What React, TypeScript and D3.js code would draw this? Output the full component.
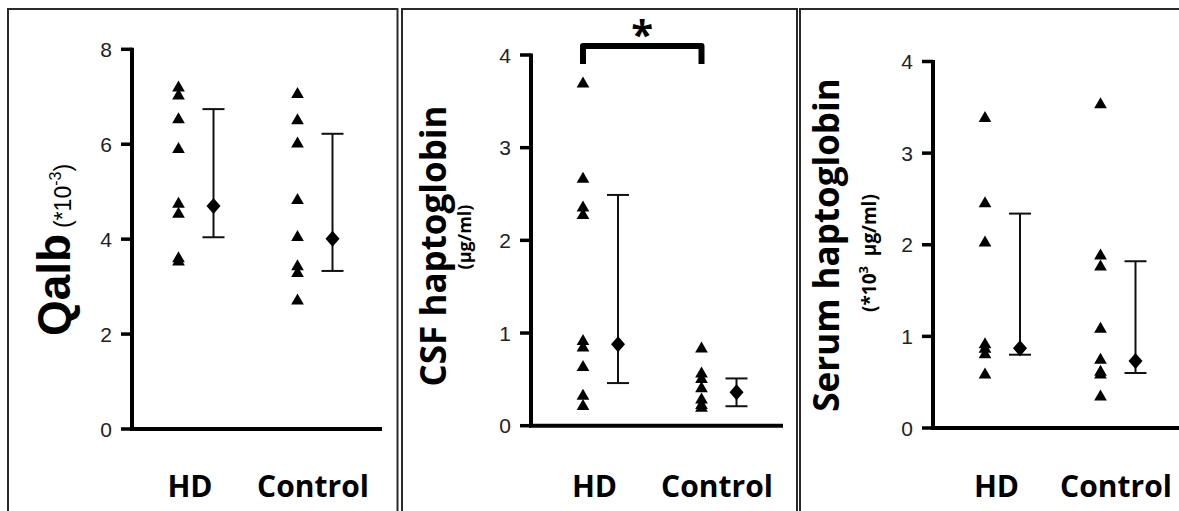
import React, { useEffect, useRef } from "react";
import * as d3 from "d3";

const groups = ["HD", "Control"];

// Qalb (*10^-3)
const qalbHD = [7.19, 7.02, 6.52, 5.89, 4.74, 4.53, 3.59, 3.52];
const qalbControl = [7.05, 6.5, 6.01, 4.82, 4.04, 3.42, 3.28, 2.7];
const qalbMid = [4.7, 4.01];
const qalbLow = [4.04, 3.33];
const qalbHigh = [6.74, 6.22];
const qalbTicks = [0, 2, 4, 6, 8];

// CSF haptoglobin (ug/ml)
const csfHD = [3.69, 2.66, 2.35, 2.27, 0.91, 0.84, 0.63, 0.32, 0.21];
const csfControl = [0.83, 0.56, 0.5, 0.4, 0.28, 0.22, 0.19];
const csfMid = [0.88, 0.36];
const csfLow = [0.46, 0.21];
const csfHigh = [2.49, 0.51];
const csfTicks = [0, 1, 2, 3, 4];

// Serum haptoglobin (*10^3 ug/ml)
const serumHD = [3.38, 2.45, 2.02, 0.91, 0.86, 0.8, 0.58];
const serumControl = [3.53, 1.88, 1.76, 1.08, 0.74, 0.61, 0.58, 0.34];
const serumMid = [0.87, 0.73];
const serumLow = [0.8, 0.6];
const serumHigh = [2.34, 1.82];
const serumTicks = [0, 1, 2, 3, 4];

const width = 1179;
const height = 511;
const calibri = "'Open Sans', 'DejaVu Sans', sans-serif";
const arial = "'Liberation Sans', Arial, sans-serif";

const panels = [
  {
    box: [8, 9, 397.5],
    axisX: 132,
    yTop: 49.3,
    yBottom: 429,
    xEnd: 382,
    centers: [196, 315],
    ticks: qalbTicks,
    pts: [qalbHD, qalbControl],
    mid: qalbMid,
    low: qalbLow,
    high: qalbHigh,
  },
  {
    box: [402, 9, 797],
    axisX: 531,
    yTop: 55,
    yBottom: 425.7,
    xEnd: 783,
    centers: [600.5, 719],
    ticks: csfTicks,
    pts: [csfHD, csfControl],
    mid: csfMid,
    low: csfLow,
    high: csfHigh,
  },
  {
    box: [800, 9, 1190],
    axisX: 933,
    yTop: 61.5,
    yBottom: 428,
    xEnd: 1185,
    centers: [1002.5, 1118],
    ticks: serumTicks,
    pts: [serumHD, serumControl],
    mid: serumMid,
    low: serumLow,
    high: serumHigh,
  },
];

const diamond = (w: number, h: number) =>
  `M0,${-h / 2}L${w / 2},0L0,${h / 2}L${-w / 2},0Z`;

const App = () => {
  const svgRef = useRef<SVGSVGElement>(null);

  useEffect(() => {
    const svg = d3.select(svgRef.current);
    svg.selectAll("*").remove();

    const tri = d3.symbol().type(d3.symbolTriangle).size(70)();

    panels.forEach((p, pi) => {
      const g = svg.append("g");

      // panel frame
      g.append("rect")
        .attr("x", p.box[0])
        .attr("y", p.box[1])
        .attr("width", p.box[2] - p.box[0])
        .attr("height", 600)
        .attr("fill", "none")
        .attr("stroke", "#2a2a2a")
        .attr("stroke-width", 2);

      const y = d3
        .scaleLinear()
        .domain([0, d3.max(p.ticks) as number])
        .range([p.yBottom, p.yTop]);
      const x = d3.scalePoint().domain(groups).range(p.centers);

      // y axis: spine, ticks, labels
      g.append("line")
        .attr("x1", p.axisX)
        .attr("x2", p.axisX)
        .attr("y1", y(d3.max(p.ticks) as number) - 1.5)
        .attr("y2", p.yBottom)
        .attr("stroke", "#000")
        .attr("stroke-width", 4);
      g.selectAll(null)
        .data(p.ticks)
        .join("line")
        .attr("x1", p.axisX - 11)
        .attr("x2", p.axisX)
        .attr("y1", (d) => y(d))
        .attr("y2", (d) => y(d))
        .attr("stroke", "#000")
        .attr("stroke-width", 3.5);
      g.selectAll(null)
        .data(p.ticks)
        .join("text")
        .attr("x", p.axisX - 20)
        .attr("y", (d) => y(d))
        .attr("dy", "0.36em")
        .attr("text-anchor", "end")
        .attr("font-family", arial)
        .attr("font-size", 21)
        .attr("fill", "#222")
        .text((d) => d3.format("d")(d));

      // x axis line
      g.append("line")
        .attr("x1", p.axisX - 2)
        .attr("x2", p.xEnd)
        .attr("y1", p.yBottom)
        .attr("y2", p.yBottom)
        .attr("stroke", "#000")
        .attr("stroke-width", 4);

      groups.forEach((grp, gi) => {
        const cx = x(grp) as number;
        const tx = cx - 17.5;
        const mx = cx + 17.5;

        // individual values
        g.selectAll(null)
          .data(p.pts[gi])
          .join("path")
          .attr("d", tri)
          .attr("transform", (d) => `translate(${tx},${y(d)})`)
          .attr("fill", "#000");

        // range bar
        g.append("line")
          .attr("x1", mx)
          .attr("x2", mx)
          .attr("y1", y(p.low[gi]))
          .attr("y2", y(p.high[gi]))
          .attr("stroke", "#111")
          .attr("stroke-width", 2);
        [p.low[gi], p.high[gi]].forEach((v) => {
          g.append("line")
            .attr("x1", mx - 11)
            .attr("x2", mx + 11)
            .attr("y1", y(v))
            .attr("y2", y(v))
            .attr("stroke", "#111")
            .attr("stroke-width", 2);
        });

        // central value
        g.append("path")
          .attr("d", diamond(14, 16))
          .attr("transform", `translate(${mx},${y(p.mid[gi])})`)
          .attr("fill", "#000");

        // category label
        g.append("text")
          .attr("x", cx + (gi === 0 ? -6 : -2))
          .attr("y", 497)
          .attr("text-anchor", "middle")
          .attr("font-family", calibri)
          .attr("font-weight", 700)
          .attr("font-size", 30)
          .attr("fill", "#000")
          .text(grp);
      });

      // significance bracket on CSF panel
      if (pi === 1) {
        const l = (x("HD") as number) - 17.5;
        const r = (x("Control") as number) - 17.5;
        g.append("path")
          .attr("d", `M${l},64V46H${r}V64`)
          .attr("fill", "none")
          .attr("stroke", "#000")
          .attr("stroke-width", 6)
          .attr("stroke-linejoin", "round");
        g.append("text")
          .attr("x", (l + r) / 2)
          .attr("y", 49)
          .attr("text-anchor", "middle")
          .attr("font-family", calibri)
          .attr("font-weight", 700)
          .attr("font-size", 40)
          .text("*");
      }
    });

    // axis titles
    svg
      .append("text")
      .attr("transform", "translate(70,336) rotate(-90)")
      .attr("text-anchor", "start")
      .attr("font-family", arial)
      .attr("font-weight", 700)
      .attr("font-size", 46)
      .attr("textLength", 102)
      .attr("lengthAdjust", "spacingAndGlyphs")
      .text("Qalb");
    const t1 = svg
      .append("text")
      .attr("transform", "translate(71,228) rotate(-90)")
      .attr("text-anchor", "start")
      .attr("font-family", arial)
      .attr("font-size", 23)
      .attr("fill", "#000");
    t1.append("tspan").text("(*10");
    t1.append("tspan").attr("font-size", 16).attr("dy", -10).text("-3");
    t1.append("tspan").attr("dy", 10).text(")");

    svg
      .append("text")
      .attr("transform", "translate(446,246) rotate(-90)")
      .attr("text-anchor", "middle")
      .attr("font-family", calibri)
      .attr("font-weight", 700)
      .attr("font-size", 35)
      .text("CSF haptoglobin");
    svg
      .append("text")
      .attr("transform", "translate(471,237) rotate(-90)")
      .attr("text-anchor", "middle")
      .attr("font-family", calibri)
      .attr("font-weight", 700)
      .attr("font-size", 18)
      .text("(µg/ml)");

    svg
      .append("text")
      .attr("transform", "translate(839,245) rotate(-90)")
      .attr("text-anchor", "middle")
      .attr("font-family", calibri)
      .attr("font-weight", 700)
      .attr("font-size", 35)
      .text("Serum haptoglobin");
    const t3 = svg
      .append("text")
      .attr("transform", "translate(876,312) rotate(-90)")
      .attr("text-anchor", "start")
      .attr("font-family", calibri)
      .attr("font-weight", 700)
      .attr("font-size", 19);
    t3.append("tspan").text("(*10");
    t3.append("tspan").attr("font-size", 13).attr("dy", -8).text("3");
    t3.append("tspan").attr("dy", 8).text("\u00a0\u00a0µg/ml)");
  }, []);

  return (
    <svg
      ref={svgRef}
      width={width}
      height={height}
      style={{ position: "absolute", left: 0, top: 0, background: "#fff" }}
    />
  );
};

export default App;
